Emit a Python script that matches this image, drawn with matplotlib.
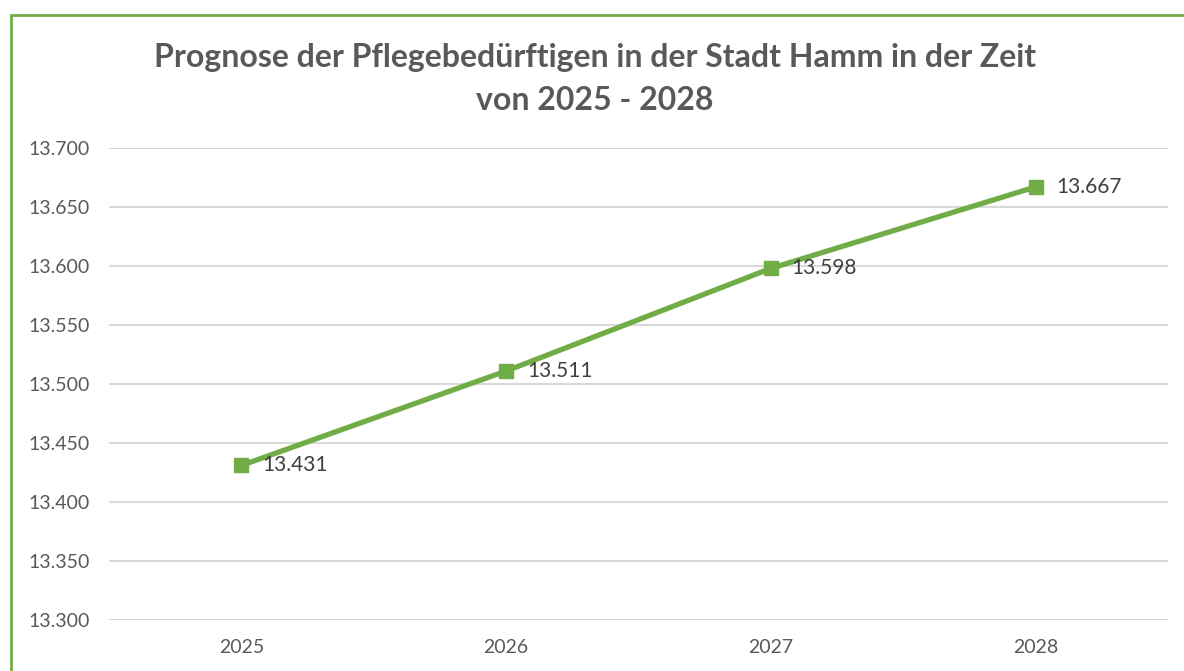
import matplotlib
matplotlib.use("Agg")
import matplotlib.pyplot as plt
from matplotlib.patches import Rectangle

years = ["2025", "2026", "2027", "2028"]
values = [13431, 13511, 13598, 13667]
yticks = [13300, 13350, 13400, 13450, 13500, 13550, 13600, 13650, 13700]

def de_fmt(v):
    return f"{v:,}".replace(",", ".")

plt.rcParams['font.family'] = ['Lato', 'DejaVu Sans']
W, H = 1184, 671
fig = plt.figure(figsize=(W / 100, H / 100), dpi=100)
fig.patch.set_facecolor("white")

# green frame (cropped on right and bottom)
fig.add_artist(Rectangle((10.5 / W, -0.1), 1.2, 1 - 14.5 / H + 0.1,
                         transform=fig.transFigure, fill=False,
                         edgecolor="#70AD47", linewidth=2.0))

ax = fig.add_axes([109 / W, 1 - 620 / H, (1168 - 109) / W, (620 - 148) / H])
x = list(range(len(years)))
ax.plot(x, values, color="#70AD47", linewidth=3.8, marker="s",
        markersize=10, markerfacecolor="#70AD47", markeredgecolor="#70AD47",
        solid_capstyle="round", zorder=3)
for xi, v in zip(x, values):
    ax.annotate(de_fmt(v), (xi, v), xytext=(15, 0), textcoords="offset points",
                ha="left", va="center", fontsize=15, color="#404040")

ax.set_xlim(-0.5, len(years) - 0.5)
ax.set_ylim(yticks[0], yticks[-1])
ax.set_yticks(yticks)
ax.set_yticklabels([de_fmt(t) for t in yticks])
ax.set_xticks(x)
ax.set_xticklabels(years)
ax.tick_params(axis="both", length=0, labelsize=14, labelcolor="#595959")
ax.tick_params(axis="y", pad=14)
ax.tick_params(axis="x", pad=14)
ax.grid(axis="y", color="#D9D9D9", linewidth=1.5)
ax.set_axisbelow(True)
for s in ax.spines.values():
    s.set_visible(False)

fig.text(595 / W, 1 - 57 / H, "Prognose der Pflegebedürftigen in der Stadt Hamm in der Zeit",
         ha="center", va="center", fontsize=23, fontweight="bold", color="#595959")
fig.text(595 / W, 1 - 100 / H, "von 2025 - 2028",
         ha="center", va="center", fontsize=23, fontweight="bold", color="#595959")

fig.savefig("out.png", dpi=100, facecolor="white")
